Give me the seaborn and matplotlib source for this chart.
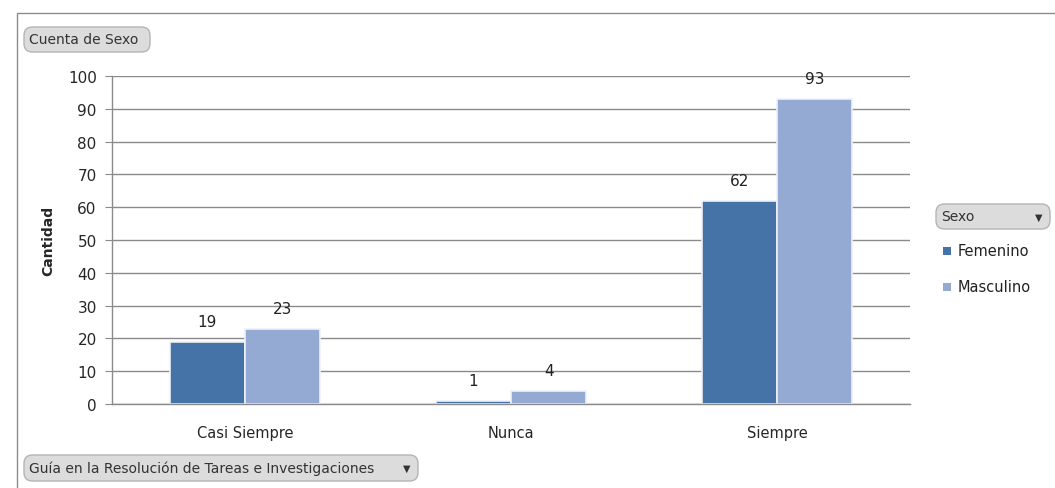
import matplotlib
matplotlib.use("Agg")
import matplotlib.pyplot as plt
import seaborn as sns
import pandas as pd
from matplotlib.patches import Rectangle, FancyBboxPatch

categories = ["Casi Siempre", "Nunca", "Siempre"]
sexes = ["Femenino", "Masculino"]
femenino = [19, 1, 62]
masculino = [23, 4, 93]
yticks = [0, 10, 20, 30, 40, 50, 60, 70, 80, 90, 100]

df = pd.DataFrame({
    "Categoria": categories * 2,
    "Sexo": [sexes[0]] * 3 + [sexes[1]] * 3,
    "Cantidad": femenino + masculino,
})

sns.set_style("white")
plt.rcParams['font.family'] = ['DejaVu Sans']
colors = ["#4573A8", "#95AAD2"]

W, H = 1055, 489
fig = plt.figure(figsize=(10.55, 4.89), dpi=100)
ax = fig.add_axes([112/W, 1-405/H, (910-112)/W, (405-77)/H])
sns.barplot(data=df, x="Categoria", y="Cantidad", hue="Sexo", palette=colors,
            width=0.565, ax=ax, edgecolor="#eef1f6", linewidth=1.2, legend=False,
            saturation=1)

ax.set_ylim(0, 100)
ax.set_yticks(yticks)
ax.set_yticklabels([str(v) for v in yticks], fontsize=11)
ax.yaxis.grid(True, color="#8a8a8a", linewidth=1)
ax.set_axisbelow(True)
ax.set_xlabel("")
ax.set_ylabel("Cantidad", fontsize=10, fontweight="bold", labelpad=9)
ax.tick_params(axis="x", labelsize=10.5, length=0, pad=15)
ax.tick_params(axis="y", length=5, color="#8a8a8a", left=True, pad=6)
for s in ["top", "right"]:
    ax.spines[s].set_visible(False)
for s in ["left", "bottom"]:
    ax.spines[s].set_color("#8a8a8a")
    ax.spines[s].set_linewidth(1)

for cont in ax.containers:
    ax.bar_label(cont, padding=9, fontsize=11, color="#222222")

# outer border
fig.patches.append(Rectangle((17/W, -0.01), 1.2, (H-14)/H + 0.01,
                             transform=fig.transFigure, fill=False,
                             edgecolor="#8c8c8c", linewidth=1))


def button(x0, y0, x1, y1, text, arrow=False):
    p = FancyBboxPatch((x0/W, 1-y1/H), (x1-x0)/W, (y1-y0)/H,
                       boxstyle="round,pad=0,rounding_size=0.008",
                       transform=fig.transFigure, facecolor="#dcdcdc",
                       edgecolor="#b4b4b4", linewidth=1, mutation_aspect=W/H)
    fig.patches.append(p)
    yc = 1 - (y0 + y1) / 2 / H
    fig.text((x0 + 5)/W, yc, text, fontsize=10, color="#333333",
             va="center", ha="left")
    if arrow:
        fig.text((x1 - 8)/W, yc, "\u25BC", fontsize=7, color="#333333",
                 va="center", ha="right")


button(24, 28, 150, 53, "Cuenta de Sexo")
button(24, 456, 418, 482, "Guía en la Resolución de Tareas e Investigaciones", arrow=True)
button(936, 205, 1050, 230, "Sexo", arrow=True)

# legend
for i, (lab, c) in enumerate(zip(sexes, colors)):
    yy = 1 - (252 + 36 * i) / H
    fig.patches.append(Rectangle((943/W, yy - 4/H), 8/W, 8/H,
                                 transform=fig.transFigure, facecolor=c, edgecolor="none"))
    fig.text(958/W, yy, lab, fontsize=10.5, color="#222222", va="center", ha="left")

fig.savefig("out.png", dpi=100)
